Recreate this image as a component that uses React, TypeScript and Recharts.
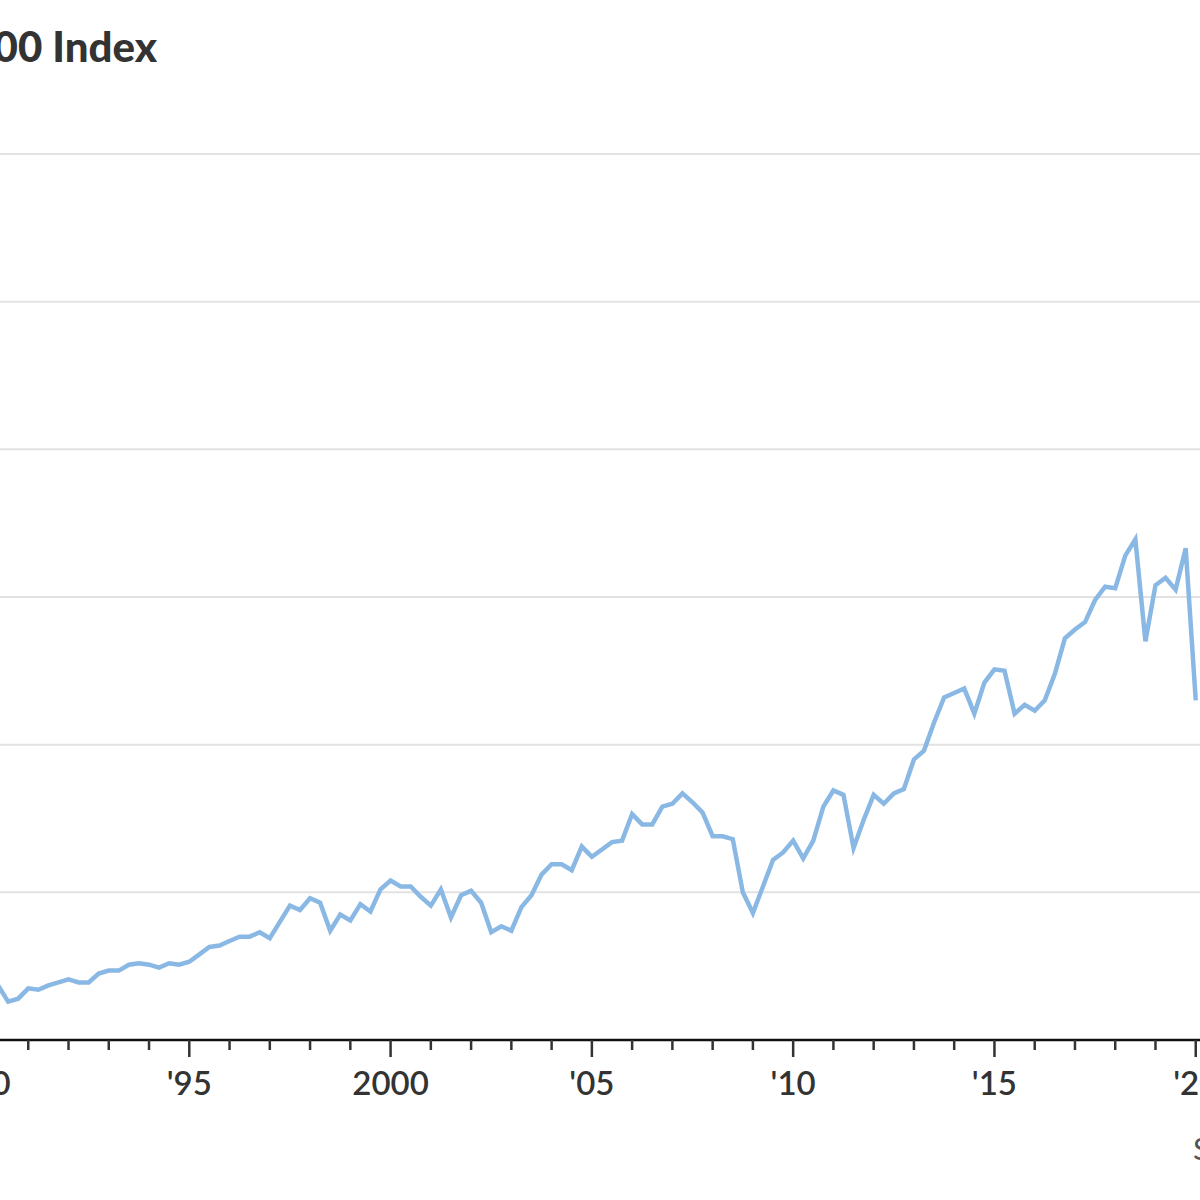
import React from 'react';
import { LineChart, Line, XAxis, YAxis, CartesianGrid } from 'recharts';

// quarterly readings, first value is Q1 of startYear
const startYear = 1990;
const quarterValues = [
  3.9, 3.7, 2.6, 2.8, // 1990
  3.5, 3.4, 3.7, 3.9, // 1991
  4.1, 3.9, 3.9, 4.5, // 1992
  4.7, 4.7, 5.1, 5.2, // 1993
  5.1, 4.9, 5.2, 5.1, // 1994
  5.3, 5.8, 6.3, 6.4, // 1995
  6.7, 7.0, 7.0, 7.3, // 1996
  6.9, 8.0, 9.1, 8.8, // 1997
  9.6, 9.3, 7.4, 8.5, // 1998
  8.1, 9.2, 8.7, 10.2, // 1999
  10.8, 10.4, 10.4, 9.7, // 2000
  9.1, 10.2, 8.3, 9.8, // 2001
  10.1, 9.3, 7.3, 7.7, // 2002
  7.4, 9.0, 9.8, 11.2, // 2003
  11.9, 11.9, 11.5, 13.1, // 2004
  12.4, 12.9, 13.4, 13.5, // 2005
  15.3, 14.6, 14.6, 15.8, // 2006
  16.0, 16.7, 16.1, 15.4, // 2007
  13.8, 13.8, 13.6, 10.0, // 2008
  8.6, 10.4, 12.2, 12.7, // 2009
  13.5, 12.3, 13.5, 15.8, // 2010
  16.9, 16.6, 13.0, 14.9, // 2011
  16.6, 16.0, 16.7, 17.0, // 2012
  19.0, 19.6, 21.5, 23.2, // 2013
  23.5, 23.8, 22.1, 24.2, // 2014
  25.1, 25.0, 22.1, 22.7, // 2015
  22.3, 23.0, 24.8, 27.2, // 2016
  27.8, 28.3, 29.8, 30.7, // 2017
  30.6, 32.8, 33.9, 27.0, // 2018
  30.8, 31.3, 30.5, 33.3, // 2019
  23.0, // 2020
];

const yearTicks = [
  1990, 1991, 1992, 1993, 1994, 1995, 1996, 1997, 1998, 1999,
  2000, 2001, 2002, 2003, 2004, 2005, 2006, 2007, 2008, 2009,
  2010, 2011, 2012, 2013, 2014, 2015, 2016, 2017, 2018, 2019,
  2020, 2021,
];
const majorYears = [1990, 1995, 2000, 2005, 2010, 2015, 2020];
const majorLabels = ["'90", "'95", '2000', "'05", "'10", "'15", "'20"];
const valueTicks = [0, 10, 20, 30, 40, 50, 60];

const chartData = quarterValues.map((v, i) => ({
  t: startYear + i / 4,
  value: v,
}));

const FONT = 'Lato, "Open Sans", sans-serif';

const YearTick = (props: any) => {
  const { x, y, payload } = props;
  const idx = majorYears.indexOf(payload.value);
  const major = idx >= 0;
  return (
    <g>
      <line x1={x} x2={x} y1={y} y2={y + (major ? 17 : 10)} stroke="#333" strokeWidth={2.5} />
      {major && (
        <text x={x} y={y + 55} textAnchor="middle" fontSize={33} fontWeight={600} fill="#333" fontFamily={FONT}>
          {majorLabels[idx]}
        </text>
      )}
    </g>
  );
};

export default function App() {
  return (
    <div
      style={{
        position: 'fixed',
        top: 0,
        left: 0,
        width: 1200,
        height: 1200,
        overflow: 'hidden',
        background: '#fff',
      }}
    >
      <svg width={1200} height={1200} style={{ position: 'absolute', top: 0, left: 0 }}>
        <text x={157} y={62} textAnchor="end" fontSize={42} fontWeight={900} fill="#333" fontFamily={FONT}>
          S&amp;P 500 Index
        </text>
        <text x={1193} y={1160} fontSize={31} fill="#555" fontFamily={FONT}>
          Source: FactSet
        </text>
      </svg>
      {/* plot is shifted so 1990 lands just left of the visible edge */}
      <div style={{ position: 'absolute', top: 0, left: -112 }}>
        <LineChart
          width={1368}
          height={1100}
          data={chartData}
          margin={{ top: 154, right: 20, left: 100, bottom: 0 }}
        >
          <CartesianGrid vertical={false} stroke="#e2e2e2" strokeWidth={2} />
          <XAxis
            dataKey="t"
            type="number"
            domain={[1990, 2021]}
            ticks={yearTicks}
            interval={0}
            height={60}
            tickSize={0}
            tickMargin={0}
            tickLine={false}
            axisLine={{ stroke: '#111', strokeWidth: 2.5 }}
            tick={<YearTick />}
          />
          <YAxis hide domain={[0, 60]} ticks={valueTicks} />
          <Line
            type="linear"
            dataKey="value"
            stroke="#8ab8e4"
            strokeWidth={4.5}
            dot={false}
            isAnimationActive={false}
          />
        </LineChart>
      </div>
    </div>
  );
}
